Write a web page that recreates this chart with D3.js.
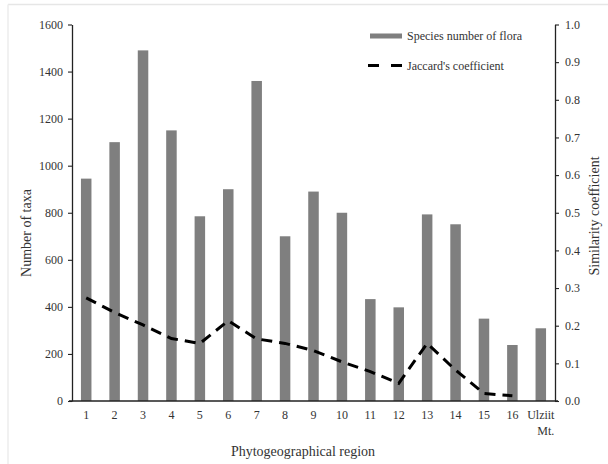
<!DOCTYPE html>
<html>
<head>
<meta charset="utf-8">
<script src="https://cdn.jsdelivr.net/npm/d3@7"></script>
<style>
  body { margin: 0; background: #fff; }
  svg, svg text { font-family: "Liberation Serif", "Times New Roman", "DejaVu Serif", serif; }
  svg { display: block; }
</style>
</head>
<body>
<svg></svg>
<script>
const regions = ["1", "2", "3", "4", "5", "6", "7", "8", "9", "10", "11", "12", "13", "14", "15", "16", "Ulziit Mt."];
const species = [945, 1100, 1490, 1150, 785, 900, 1360, 700, 890, 800, 433, 398, 793, 751, 350, 238, 309];
const jaccard = [0.274, 0.235, 0.202, 0.166, 0.153, 0.213, 0.165, 0.153, 0.134, 0.104, 0.078, 0.047, 0.153, 0.082, 0.020, 0.014, null];
const leftTicks = [0, 200, 400, 600, 800, 1000, 1200, 1400, 1600];
const rightTicks = [0, 0.1, 0.2, 0.3, 0.4, 0.5, 0.6, 0.7, 0.8, 0.9, 1.0];

const width = 608;
const height = 464;
const plotLeft = 72, plotRight = 555, plotTop = 24.5, plotBottom = 401;
const serif = '"Liberation Serif", "Times New Roman", "DejaVu Serif", serif';

const svg = d3.select("svg").attr("width", width).attr("height", height);

// faint frame from the original screenshot
svg.append("line").attr("x1", 8).attr("x2", width).attr("y1", 4.5).attr("y2", 4.5)
  .attr("stroke", "#e6e6e6").attr("stroke-width", 1.5);
svg.append("line").attr("x1", 8).attr("x2", 8).attr("y1", 4.5).attr("y2", height)
  .attr("stroke", "#ececec").attr("stroke-width", 1.5);

const xScale = d3.scaleBand().domain(regions).range([plotLeft, plotRight]).paddingInner(0.63).paddingOuter(0.315);
const yLeft = d3.scaleLinear().domain([0, 1600]).range([plotBottom, plotTop]);
const yRight = d3.scaleLinear().domain([0, 1]).range([plotBottom, plotTop]);

// bars
svg.selectAll("rect.bar")
  .data(species)
  .enter()
  .append("rect")
  .attr("class", "bar")
  .attr("x", (d, i) => xScale(regions[i]))
  .attr("width", xScale.bandwidth())
  .attr("y", (d) => yLeft(d))
  .attr("height", (d) => yLeft(0) - yLeft(d))
  .attr("fill", "#7f7f7f");

// dashed line
const line = d3.line()
  .defined((d) => d != null)
  .x((d, i) => xScale(regions[i]) + xScale.bandwidth() / 2)
  .y((d) => yRight(d));

svg.append("path")
  .datum(jaccard)
  .attr("d", line)
  .attr("fill", "none")
  .attr("stroke", "#000")
  .attr("stroke-width", 3)
  .attr("stroke-dasharray", "11,7");

// axes
const leftAxis = d3.axisLeft(yLeft).tickValues(leftTicks).tickSize(4).tickSizeOuter(0).tickPadding(5)
  .tickFormat(d3.format("d"));
const rightAxis = d3.axisRight(yRight).tickValues(rightTicks).tickSize(4).tickSizeOuter(0).tickPadding(6)
  .tickFormat(d3.format(".1f"));

const gL = svg.append("g").attr("transform", `translate(${plotLeft}, 0)`).call(leftAxis);
const gR = svg.append("g").attr("transform", `translate(${plotRight}, 0)`).call(rightAxis);

[gL, gR].forEach((g) => {
  g.attr("font-family", serif).attr("font-size", 12);
  g.select(".domain").attr("stroke", "#222").attr("stroke-width", 1.3);
  g.selectAll(".tick line").attr("stroke", "#222").attr("stroke-width", 1.1);
  g.selectAll(".tick text").attr("fill", "#333");
});

// x axis line
svg.append("line").attr("x1", plotLeft - 3).attr("x2", plotRight + 3)
  .attr("y1", plotBottom).attr("y2", plotBottom).attr("stroke", "#222").attr("stroke-width", 1.5);

// x labels
const xLabels = svg.append("g");
regions.forEach((r) => {
  const cx = xScale(r) + xScale.bandwidth() / 2;
  const parts = r.split(" ");
  const t = xLabels.append("text")
    .attr("x", cx)
    .attr("y", 419)
    .attr("text-anchor", "middle")
    .attr("fill", "#333")
    .style("font-size", "12px");
  parts.forEach((p, k) => {
    t.append("tspan").attr("x", k === 0 ? cx : cx + 5).attr("dy", k === 0 ? 0 : 16).text(p);
  });
});

// axis titles
svg.append("text").attr("x", 303).attr("y", 456).attr("text-anchor", "middle")
  .attr("fill", "#333").style("font-size", "14px").text("Phytogeographical region");

svg.append("text").attr("transform", `translate(31, 233) rotate(-90)`).attr("text-anchor", "middle")
  .attr("fill", "#333").style("font-size", "14px").text("Number of taxa");

svg.append("text").attr("transform", `translate(599, 216) rotate(-90)`).attr("text-anchor", "middle")
  .attr("fill", "#333").style("font-size", "14px").text("Similarity coefficient");

// legend
const legend = svg.append("g");
legend.append("rect").attr("x", 370).attr("y", 33.5).attr("width", 32).attr("height", 5).attr("fill", "#7f7f7f");
legend.append("text").attr("x", 407).attr("y", 40).attr("fill", "#333").style("font-size", "12px")
  .text("Species number of flora");
legend.append("line").attr("x1", 368).attr("x2", 402).attr("y1", 65.5).attr("y2", 65.5)
  .attr("stroke", "#000").attr("stroke-width", 3).attr("stroke-dasharray", "11,12");
legend.append("text").attr("x", 407).attr("y", 69.5).attr("fill", "#333").style("font-size", "12px")
  .text("Jaccard's coefficient");
</script>
</body>
</html>
